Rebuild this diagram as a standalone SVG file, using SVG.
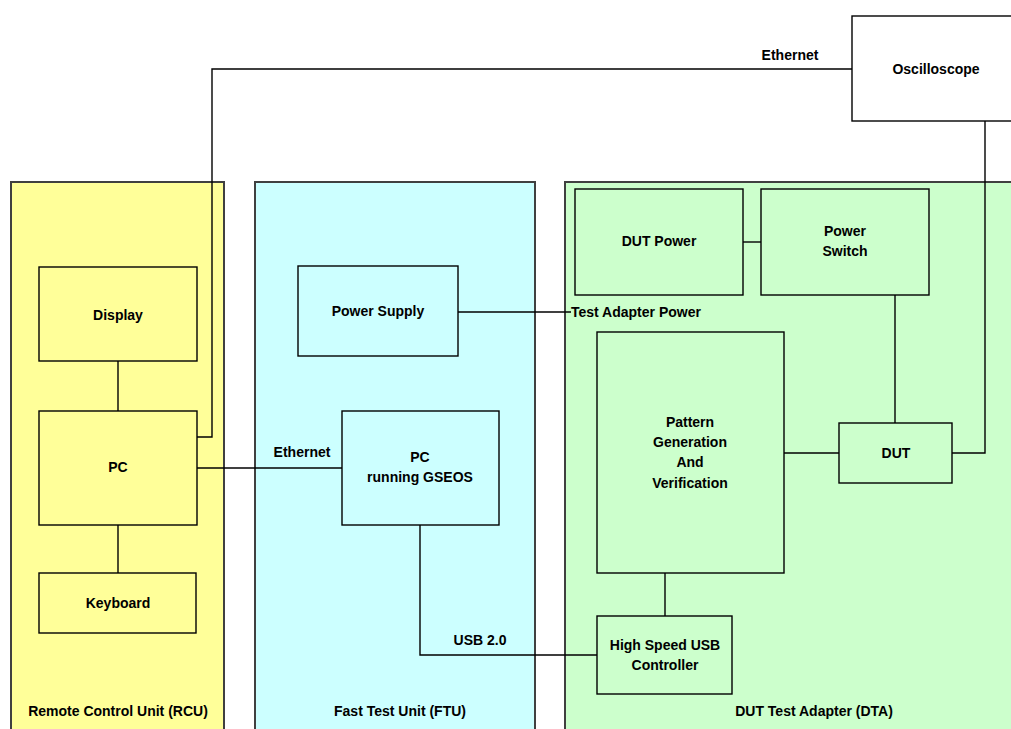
<svg xmlns="http://www.w3.org/2000/svg" width="1011" height="729" viewBox="0 0 1011 729">
<style>
.panel{stroke:#404040;stroke-width:2}
.rcu{fill:#FFFF99}
.ftu{fill:#CCFFFF}
.dta{fill:#CCFFCC}
.node{stroke:#000;stroke-width:1.4}
.conn{fill:none;stroke:#000;stroke-width:1.4}
text{font-family:"Liberation Sans",Arial,sans-serif;font-weight:bold;font-size:14px;fill:#000;text-anchor:middle}
</style>
<rect width="1011" height="729" fill="#fff"/>
<g id="panels">
<g id="panel-rcu"><rect class="panel rcu" x="11" y="182" width="213" height="560"/><text x="118" y="716">Remote Control Unit (RCU)</text></g>
<g id="panel-ftu"><rect class="panel ftu" x="255" y="182" width="280" height="560"/><text x="400" y="716">Fast Test Unit (FTU)</text></g>
<g id="panel-dta"><rect class="panel dta" x="565" y="182" width="460" height="560"/><text x="814" y="716">DUT Test Adapter (DTA)</text></g>
</g>
<g id="connectors">
<polyline class="conn" points="197,437 212,437 212,69 852,69"/>
<polyline class="conn" points="985,121 985,453 952,453"/>
<line class="conn" x1="118" y1="361" x2="118" y2="411"/>
<line class="conn" x1="118" y1="525" x2="118" y2="573"/>
<line class="conn" x1="197" y1="468" x2="342" y2="468"/>
<polyline class="conn" points="420,525 420,655 597,655"/>
<line class="conn" x1="458" y1="312" x2="571" y2="312"/>
<line class="conn" x1="743" y1="242" x2="761" y2="242"/>
<line class="conn" x1="895" y1="295" x2="895" y2="423"/>
<line class="conn" x1="784" y1="453" x2="839" y2="453"/>
<line class="conn" x1="665" y1="573" x2="665" y2="616"/>
<text x="790" y="60">Ethernet</text>
<text x="302" y="457">Ethernet</text>
<text x="480" y="645">USB 2.0</text>
<text x="571" y="317" style="text-anchor:start">Test Adapter Power</text>
</g>
<g id="oscilloscope"><rect class="node" fill="#fff" x="852" y="16" width="170" height="105"/><text x="936" y="74">Oscilloscope</text></g>
<g id="display"><rect class="node rcu" x="39" y="267" width="158" height="94"/><text x="118" y="320">Display</text></g>
<g id="pc-rcu"><rect class="node rcu" x="39" y="411" width="158" height="114"/><text x="118" y="472">PC</text></g>
<g id="keyboard"><rect class="node rcu" x="39" y="573" width="157" height="60"/><text x="118" y="608">Keyboard</text></g>
<g id="power-supply"><rect class="node ftu" x="298" y="266" width="160" height="90"/><text x="378" y="316">Power Supply</text></g>
<g id="pc-ftu"><rect class="node ftu" x="342" y="411" width="157" height="114"/><text x="420" y="462">PC</text><text x="420" y="482">running GSEOS</text></g>
<g id="dut-power"><rect class="node dta" x="575" y="189" width="168" height="106"/><text x="659" y="246">DUT Power</text></g>
<g id="power-switch"><rect class="node dta" x="761" y="189" width="168" height="106"/><text x="845" y="236">Power</text><text x="845" y="256">Switch</text></g>
<g id="pattern"><rect class="node dta" x="597" y="332" width="187" height="241"/><text x="690" y="427">Pattern</text><text x="690" y="447">Generation</text><text x="690" y="467">And</text><text x="690" y="488">Verification</text></g>
<g id="dut"><rect class="node dta" x="839" y="423" width="113" height="60"/><text x="896" y="458">DUT</text></g>
<g id="hs-usb"><rect class="node dta" x="597" y="616" width="135" height="78"/><text x="665" y="650">High Speed USB</text><text x="665" y="670">Controller</text></g>
</svg>
